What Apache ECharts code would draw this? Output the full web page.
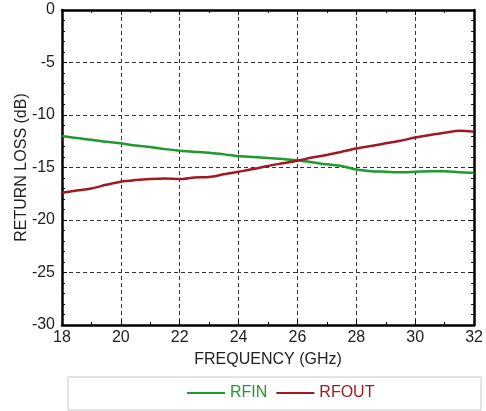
<!DOCTYPE html>
<html>
<head>
<meta charset="utf-8">
<title>Return Loss</title>
<script src="https://cdn.jsdelivr.net/npm/echarts@6/dist/echarts.min.js"></script>
<style>
  html, body { margin: 0; padding: 0; background: #fff; }
  #chart { width: 486px; height: 411px; }
</style>
</head>
<body>
<div id="chart"></div>
<script>
// frequency points (GHz)
const freq = [18, 18.5, 19, 19.5, 20, 20.5, 21, 21.5, 22, 22.5, 23, 23.5, 24, 24.5, 25,
  25.5, 26, 26.5, 27, 27.5, 28, 28.5, 29, 29.5, 30, 30.5, 31, 31.5, 32];

// return loss (dB)
const rfin = [-12.0, -12.2, -12.35, -12.55, -12.7, -12.9, -13.05, -13.25, -13.4, -13.5, -13.6,
  -13.75, -13.9, -14.0, -14.1, -14.2, -14.3, -14.5, -14.7, -14.85, -15.2, -15.35, -15.4,
  -15.45, -15.4, -15.35, -15.35, -15.45, -15.5];
const rfout = [-17.4, -17.2, -17.0, -16.65, -16.35, -16.2, -16.1, -16.05, -16.1, -15.95, -15.9,
  -15.65, -15.4, -15.15, -14.85, -14.6, -14.35, -14.05, -13.8, -13.5, -13.2, -12.95, -12.7,
  -12.45, -12.15, -11.9, -11.7, -11.5, -11.6];

const seriesNames = ['RFIN', 'RFOUT'];
const colors = ['#1f9a2e', '#9e1b24'];

const font = "'Liberation Sans', Arial, sans-serif";

const chart = echarts.init(document.getElementById('chart'));

// common look for the frame axes (ticks inside, thick black line)
const frameAxis = (extra) => Object.assign({
  type: 'value',
  axisLine: { show: true, onZero: false, lineStyle: { color: '#000', width: 2.5 } },
  axisTick: { show: true, inside: true, length: 5, lineStyle: { color: '#000', width: 1 } },
  splitLine: { show: false },
  axisLabel: { show: false }
}, extra);

const option = {
  animation: false,
  textStyle: { fontFamily: font },
  grid: { left: 62, top: 10, right: 6, bottom: 86 },
  graphic: [
    {
      type: 'rect',
      shape: { x: 68, y: 377, width: 413, height: 33 },
      style: { fill: 'none', stroke: '#c8c8c8', lineWidth: 1 }
    }
  ],
  legend: {
    left: 187,
    top: 385,
    padding: 0,
    itemGap: 9,
    itemWidth: 38,
    itemHeight: 2,
    icon: 'rect',
    textStyle: { fontSize: 16, fontFamily: font },
    data: seriesNames.map((n, i) => ({ name: n, textStyle: { color: colors[i] } }))
  },
  xAxis: [
    frameAxis({
      min: 18, max: 32, interval: 2,
      minorTick: { show: true, splitNumber: 2, length: 3, lineStyle: { color: '#000' } },
      splitLine: { show: true, lineStyle: { color: '#333', type: [4, 3], width: 1 } },
      axisLabel: { show: true, color: '#222', fontSize: 16, margin: 5, fontFamily: font },
      name: 'FREQUENCY (GHz)',
      nameLocation: 'middle',
      nameGap: 27,
      nameMoveOverlap: false,
      nameTextStyle: { color: '#222', fontSize: 16, fontFamily: font }
    }),
    frameAxis({
      position: 'top', min: 18, max: 32, interval: 2,
      minorTick: { show: true, splitNumber: 2, length: 3, lineStyle: { color: '#000' } }
    })
  ],
  yAxis: [
    frameAxis({
      min: -30, max: 0, interval: 5,
      minorTick: { show: true, splitNumber: 5, length: 3, lineStyle: { color: '#000' } },
      splitLine: { show: true, lineStyle: { color: '#333', type: [4, 3], width: 1 } },
      axisLabel: { show: true, color: '#222', fontSize: 16, margin: 7, fontFamily: font },
      name: 'RETURN LOSS (dB)',
      nameLocation: 'middle',
      nameGap: 32,
      nameMoveOverlap: false,
      nameTextStyle: { color: '#222', fontSize: 16, fontFamily: font }
    }),
    frameAxis({
      position: 'right', min: -30, max: 0, interval: 5,
      minorTick: { show: true, splitNumber: 5, length: 3, lineStyle: { color: '#000' } }
    })
  ],
  series: [
    {
      name: 'RFIN',
      type: 'line',
      showSymbol: false,
      smooth: 0.3,
      color: colors[0],
      lineStyle: { width: 2.5 },
      data: freq.map((f, i) => [f, rfin[i]])
    },
    {
      name: 'RFOUT',
      type: 'line',
      showSymbol: false,
      smooth: 0.3,
      color: colors[1],
      lineStyle: { width: 2.5 },
      data: freq.map((f, i) => [f, rfout[i]])
    }
  ]
};

chart.setOption(option);
</script>
</body>
</html>
